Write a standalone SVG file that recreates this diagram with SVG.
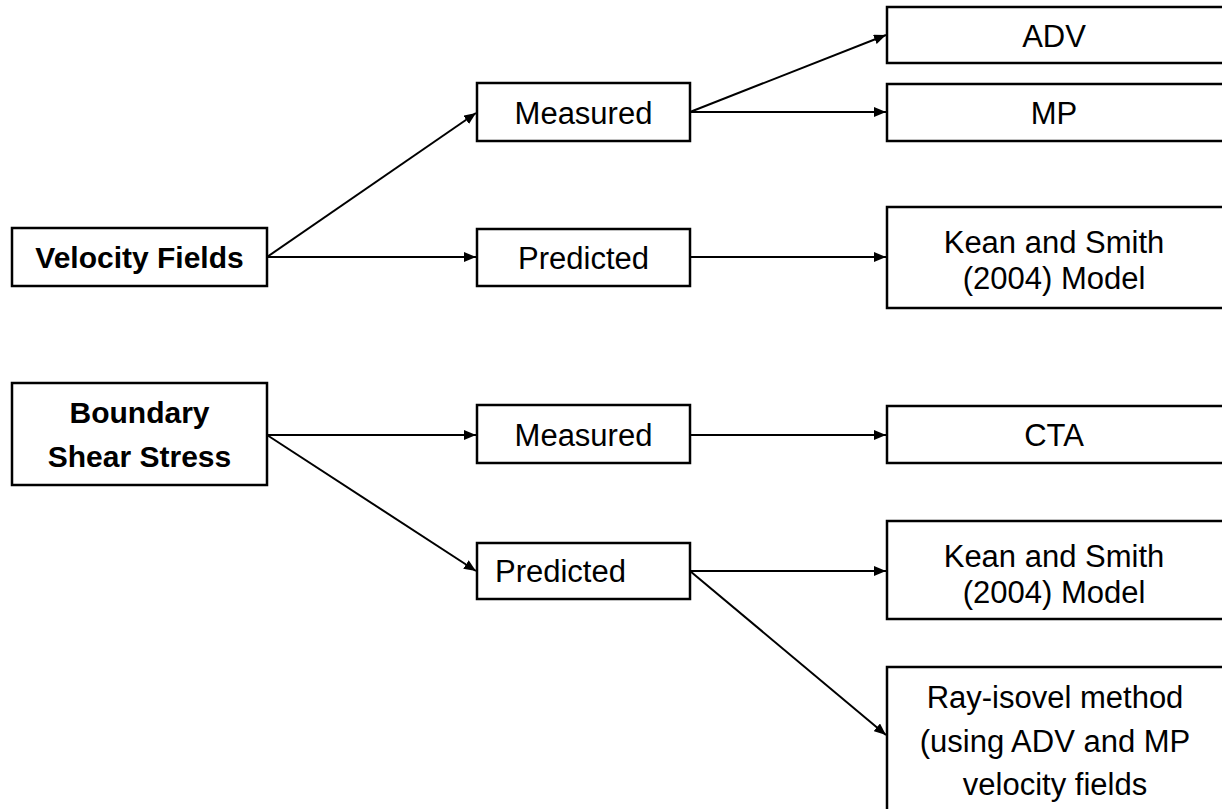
<svg xmlns="http://www.w3.org/2000/svg" width="1222" height="809" viewBox="0 0 1222 809">
<style>
.box{fill:#fff;stroke:#000;stroke-width:2.5}
.t{font-family:"Liberation Sans",Arial,sans-serif;font-size:31px;fill:#000;text-anchor:middle}
.b{font-weight:bold;font-size:30px}
.l{text-anchor:start}
.c{stroke:#000;stroke-width:2;fill:none;marker-end:url(#ah)}
</style>
<defs>
<marker id="ah" markerUnits="userSpaceOnUse" markerWidth="14" markerHeight="10" refX="12" refY="5" orient="auto">
<path d="M0,0 L12,5 L0,10 z" fill="#000"/>
</marker>
</defs>
<rect width="1222" height="809" fill="#fff"/>
<g id="connectors">
<line class="c" x1="267" y1="257" x2="476" y2="113"/>
<line class="c" x1="267" y1="257" x2="476" y2="257"/>
<line class="c" x1="690" y1="112" x2="886" y2="35"/>
<line class="c" x1="690" y1="112" x2="886" y2="112"/>
<line class="c" x1="690" y1="257" x2="886" y2="257"/>
<line class="c" x1="267" y1="435" x2="476" y2="435"/>
<line class="c" x1="267" y1="435" x2="476" y2="571"/>
<line class="c" x1="690" y1="435" x2="886" y2="435"/>
<line class="c" x1="690" y1="571" x2="886" y2="571"/>
<line class="c" x1="690" y1="571" x2="886" y2="735"/>
</g>
<g id="velocity-fields">
<rect class="box" x="12" y="228" width="255" height="58"/>
<text class="t b" x="139.5" y="268">Velocity Fields</text>
</g>
<g id="vf-measured">
<rect class="box" x="477" y="83" width="213" height="58"/>
<text class="t" x="583.5" y="124">Measured</text>
</g>
<g id="vf-predicted">
<rect class="box" x="477" y="229" width="213" height="57"/>
<text class="t" x="583.5" y="269">Predicted</text>
</g>
<g id="adv">
<rect class="box" x="887" y="7" width="340" height="56"/>
<text class="t" x="1054" y="47">ADV</text>
</g>
<g id="mp">
<rect class="box" x="887" y="84" width="340" height="57"/>
<text class="t" x="1054" y="124">MP</text>
</g>
<g id="kean-vf">
<rect class="box" x="887" y="207" width="340" height="101"/>
<text class="t" x="1054" y="253">Kean and Smith</text>
<text class="t" x="1054" y="289">(2004) Model</text>
</g>
<g id="boundary-shear-stress">
<rect class="box" x="12" y="383" width="255" height="102"/>
<text class="t b" x="139.5" y="423">Boundary</text>
<text class="t b" x="139.5" y="467">Shear Stress</text>
</g>
<g id="bss-measured">
<rect class="box" x="477" y="405" width="213" height="58"/>
<text class="t" x="583.5" y="446">Measured</text>
</g>
<g id="bss-predicted">
<rect class="box" x="477" y="543" width="213" height="56"/>
<text class="t l" x="495" y="582">Predicted</text>
</g>
<g id="cta">
<rect class="box" x="887" y="406" width="340" height="57"/>
<text class="t" x="1054" y="446">CTA</text>
</g>
<g id="kean-bss">
<rect class="box" x="887" y="521" width="340" height="98"/>
<text class="t" x="1054" y="567">Kean and Smith</text>
<text class="t" x="1054" y="603">(2004) Model</text>
</g>
<g id="ray-isovel">
<rect class="box" x="887" y="667" width="340" height="160"/>
<text class="t" x="1055" y="708">Ray-isovel method</text>
<text class="t" x="1055" y="752">(using ADV and MP</text>
<text class="t" x="1055" y="795">velocity fields</text>
</g>
</svg>
